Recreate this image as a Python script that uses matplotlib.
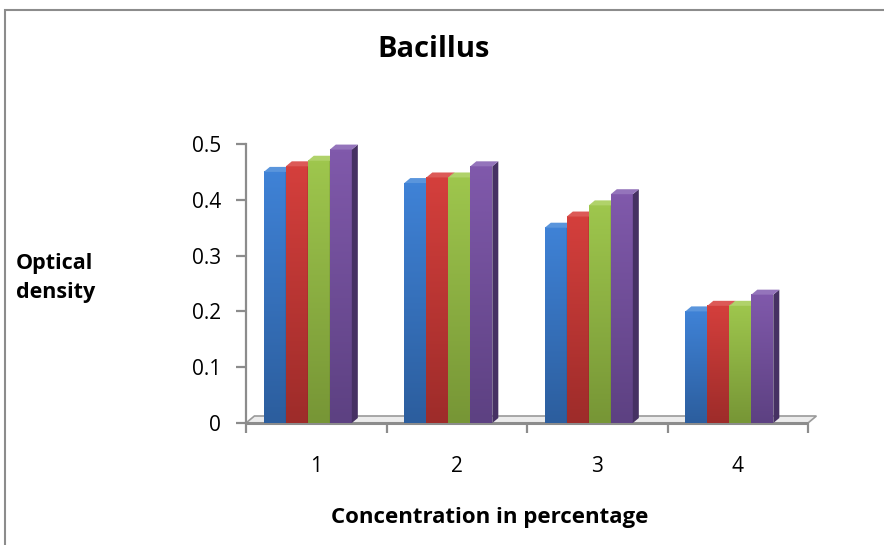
import numpy as np
import matplotlib
matplotlib.use("Agg")
import matplotlib.pyplot as plt
from matplotlib.colors import LinearSegmentedColormap
from matplotlib.patches import Polygon, Rectangle

plt.rcParams["font.family"] = ["Open Sans", "DejaVu Sans"]

# Optical density readings per concentration, four replicate series
categories = ["1", "2", "3", "4"]
series_a = [0.45, 0.43, 0.35, 0.20]
series_b = [0.46, 0.44, 0.37, 0.21]
series_c = [0.47, 0.44, 0.39, 0.21]
series_d = [0.49, 0.46, 0.41, 0.23]
y_ticks = [0, 0.1, 0.2, 0.3, 0.4, 0.5]
y_tick_labels = ["0", "0.1", "0.2", "0.3", "0.4", "0.5"]

# (top of front face, bottom of front face, side face, top face)
palette = [
    ("#3f82d6", "#2c5e9e", "#234a7c", "#5a95dc"),
    ("#d43f3c", "#9e2c2a", "#7a2120", "#dc5a57"),
    ("#9ec64d", "#779636", "#5b7528", "#b0d26a"),
    ("#8059ab", "#5d4182", "#463163", "#9474bb"),
]

W, H = 884, 545
fig = plt.figure(figsize=(W / 100, H / 100), dpi=100)
fig.patch.set_facecolor("white")

# chart frame (runs off the right and bottom edges)
fig.add_artist(Rectangle((5 / W, -0.05), 1.0, (H - 10) / H + 0.05,
                         transform=fig.transFigure, fill=False,
                         edgecolor="#8c8c8c", linewidth=1.5))

Y0, Y5 = 423, 144          # pixel rows of 0 and 0.5
XL, XR = 246, 808          # pixel columns of the plot edges
ax = fig.add_axes([XL / W, (H - Y0) / H, (XR - XL) / W, (Y0 - Y5) / H])
n = len(categories)
ax.set_xlim(0.5, n + 0.5)
ax.set_ylim(0, 0.5)

px_x = n / (XR - XL)       # data units per pixel, x
px_y = 0.5 / (Y0 - Y5)     # data units per pixel, y
dx, dy = 6 * px_x, 5 * px_y   # depth of the 3D faces

# floor slab
x0, x1 = 0.5, n + 0.5
floor = Polygon([(x0, 0), (x1, 0), (x1 + 1.4 * dx, 1.4 * dy), (x0 + 1.4 * dx, 1.4 * dy)],
                closed=True, facecolor="#ececec", edgecolor="#9a9a9a",
                linewidth=1.2, zorder=1, clip_on=False)
ax.add_patch(floor)
ax.plot([x0, x1], [0, 0], color="#8c8c8c", linewidth=2.2, zorder=2,
        clip_on=False, solid_capstyle="butt")

bar_w = 22 * px_x
shift = -0.06
xs = np.arange(1, n + 1)
all_series = [series_a, series_b, series_c, series_d]

for i, (vals, cols) in enumerate(zip(all_series, palette)):
    top_c, bot_c, side_c, cap_c = cols
    cmap = LinearSegmentedColormap.from_list(f"s{i}", [bot_c, top_c])
    grad = np.linspace(0, 1, 64).reshape(-1, 1)
    for xc, v in zip(xs, vals):
        left = xc + shift + (i - 1.5) * bar_w - bar_w / 2
        right = left + bar_w
        # front face with a vertical gradient
        ax.imshow(grad, extent=[left, right, 0, v], origin="lower",
                  cmap=cmap, aspect="auto", zorder=3 + i, clip_on=False,
                  interpolation="bilinear")
        # side and top faces
        ax.add_patch(Polygon([(right, 0), (right + dx, dy), (right + dx, v + dy), (right, v)],
                             closed=True, facecolor=side_c, edgecolor="none",
                             zorder=3 + i, clip_on=False))
        ax.add_patch(Polygon([(left, v), (left + dx, v + dy), (right + dx, v + dy), (right, v)],
                             closed=True, facecolor=cap_c, edgecolor="none",
                             zorder=3 + i, clip_on=False))

ax.set_xlim(0.5, n + 0.5)
ax.set_ylim(0, 0.5)

for side in ["top", "right", "bottom"]:
    ax.spines[side].set_visible(False)
ax.spines["left"].set_color("#8c8c8c")
ax.spines["left"].set_linewidth(1.6)

ax.set_yticks(y_ticks)
ax.set_yticklabels(y_tick_labels)
ax.tick_params(axis="y", length=7, width=1.6, color="#8c8c8c",
               labelsize=15, pad=11)

# category boundaries on the bottom, labels centred on each group
ax.set_xticks(np.arange(0.5, n + 1, 1.0))
ax.set_xticklabels([])
ax.tick_params(axis="x", length=7, width=1.6, color="#8c8c8c")
for xc, lab in zip(xs, categories):
    ax.text(xc, -43 * px_y, lab, ha="center", va="center", fontsize=15)

fig.text(434 / W, (H - 57) / H, "Bacillus", ha="center", va="baseline",
         fontsize=21, fontweight="bold")
fig.text(16 / W, (H - 269) / H, "Optical", ha="left", va="baseline",
         fontsize=15.5, fontweight="bold")
fig.text(16 / W, (H - 298) / H, "density", ha="left", va="baseline",
         fontsize=15.5, fontweight="bold")
fig.text(490 / W, (H - 523) / H, "Concentration in percentage", ha="center",
         va="baseline", fontsize=16, fontweight="bold")

fig.savefig("out.png", dpi=100)
